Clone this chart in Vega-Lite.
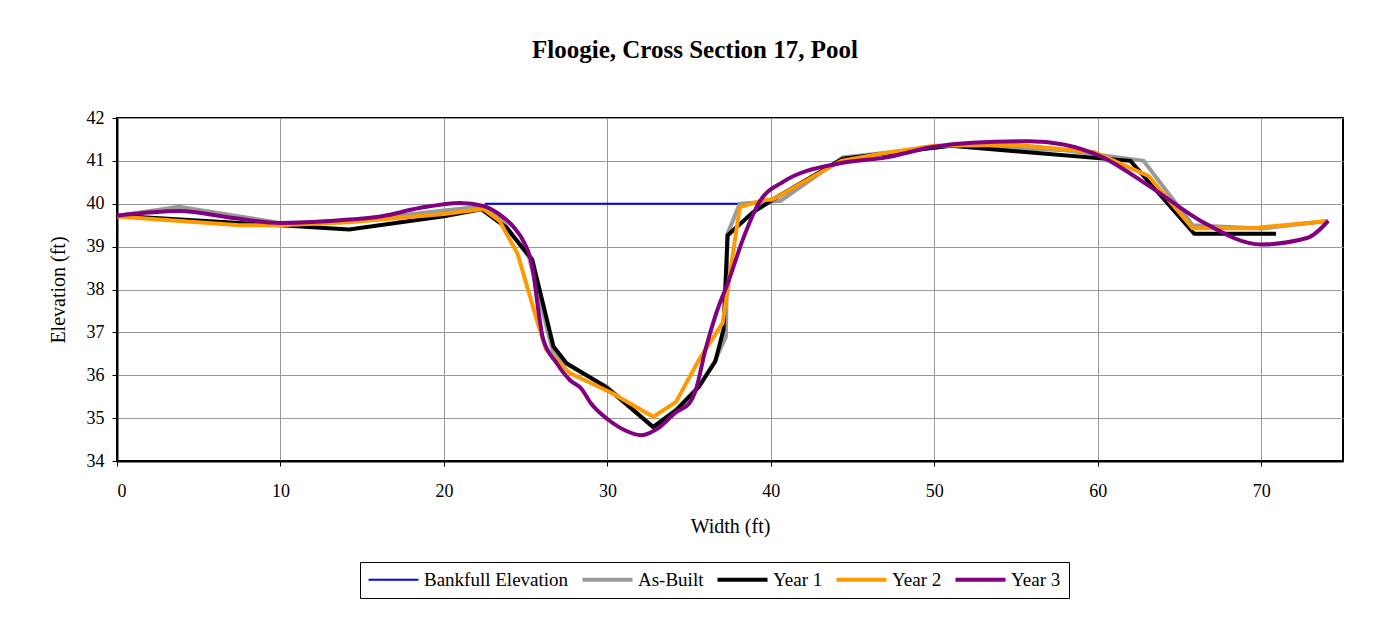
{
  "$schema": "https://vega.github.io/schema/vega-lite/v6.json",
  "width": 1226,
  "height": 343,
  "autosize": {"type": "none"},
  "padding": {"left": 117, "top": 118, "right": 31, "bottom": 156},
  "background": "white",
  "title": {"text": "Floogie, Cross Section 17, Pool", "font": "Liberation Serif", "fontSize": 25, "fontWeight": "bold", "color": "black", "anchor": "middle", "frame": "group", "dx": -35, "offset": 46},
  "config": {
    "view": {"stroke": "black", "strokeWidth": 2},
    "axis": {
      "labelFont": "Liberation Serif", "labelFontSize": 18, "labelColor": "black",
      "titleFont": "Liberation Serif", "titleFontSize": 20, "titleFontWeight": "normal", "titleColor": "black",
      "gridColor": "#999999", "gridWidth": 1, "domainColor": "black", "domainWidth": 2,
      "tickColor": "black", "tickSize": 5, "tickWidth": 1
    }
  },
  "data": {"values": [
    {"series": "Bankfull Elevation", "x": 22.5, "y": 40.0},
    {"series": "Bankfull Elevation", "x": 38.2, "y": 40.0},

    {"series": "As-Built", "x": 0, "y": 39.72},
    {"series": "As-Built", "x": 3.8, "y": 39.93},
    {"series": "As-Built", "x": 10, "y": 39.55},
    {"series": "As-Built", "x": 14.4, "y": 39.6},
    {"series": "As-Built", "x": 20, "y": 39.84},
    {"series": "As-Built", "x": 22.1, "y": 39.93},
    {"series": "As-Built", "x": 23.3, "y": 39.75},
    {"series": "As-Built", "x": 25.2, "y": 38.75},
    {"series": "As-Built", "x": 26.7, "y": 36.5},
    {"series": "As-Built", "x": 27.3, "y": 36.3},
    {"series": "As-Built", "x": 30, "y": 35.72},
    {"series": "As-Built", "x": 32.8, "y": 34.8},
    {"series": "As-Built", "x": 34.2, "y": 35.2},
    {"series": "As-Built", "x": 35.6, "y": 35.75},
    {"series": "As-Built", "x": 36.6, "y": 36.35},
    {"series": "As-Built", "x": 37.25, "y": 36.9},
    {"series": "As-Built", "x": 37.35, "y": 39.3},
    {"series": "As-Built", "x": 38.1, "y": 40.0},
    {"series": "As-Built", "x": 40.6, "y": 40.07},
    {"series": "As-Built", "x": 44.4, "y": 41.08},
    {"series": "As-Built", "x": 51, "y": 41.35},
    {"series": "As-Built", "x": 58, "y": 41.25},
    {"series": "As-Built", "x": 62.8, "y": 41.0},
    {"series": "As-Built", "x": 65.8, "y": 39.5},
    {"series": "As-Built", "x": 70, "y": 39.42},
    {"series": "As-Built", "x": 74.1, "y": 39.6},

    {"series": "Year 1", "x": 0, "y": 39.72},
    {"series": "Year 1", "x": 7.5, "y": 39.55},
    {"series": "Year 1", "x": 10, "y": 39.5},
    {"series": "Year 1", "x": 14.2, "y": 39.4},
    {"series": "Year 1", "x": 20, "y": 39.71},
    {"series": "Year 1", "x": 22.3, "y": 39.87},
    {"series": "Year 1", "x": 23.8, "y": 39.45},
    {"series": "Year 1", "x": 25.4, "y": 38.7},
    {"series": "Year 1", "x": 26.7, "y": 36.67},
    {"series": "Year 1", "x": 27.5, "y": 36.28},
    {"series": "Year 1", "x": 29.9, "y": 35.73},
    {"series": "Year 1", "x": 32.8, "y": 34.79},
    {"series": "Year 1", "x": 34.2, "y": 35.18},
    {"series": "Year 1", "x": 35.6, "y": 35.73},
    {"series": "Year 1", "x": 36.6, "y": 36.32},
    {"series": "Year 1", "x": 37.1, "y": 37.06},
    {"series": "Year 1", "x": 37.35, "y": 39.26},
    {"series": "Year 1", "x": 38.9, "y": 39.8},
    {"series": "Year 1", "x": 40.35, "y": 40.15},
    {"series": "Year 1", "x": 44.4, "y": 41.05},
    {"series": "Year 1", "x": 51, "y": 41.35},
    {"series": "Year 1", "x": 62, "y": 41.0},
    {"series": "Year 1", "x": 65.9, "y": 39.3},
    {"series": "Year 1", "x": 70.9, "y": 39.3},

    {"series": "Year 2", "x": 0, "y": 39.7},
    {"series": "Year 2", "x": 7.5, "y": 39.5},
    {"series": "Year 2", "x": 10, "y": 39.5},
    {"series": "Year 2", "x": 14.2, "y": 39.57},
    {"series": "Year 2", "x": 20, "y": 39.76},
    {"series": "Year 2", "x": 22.4, "y": 39.88},
    {"series": "Year 2", "x": 23.4, "y": 39.6},
    {"series": "Year 2", "x": 24.5, "y": 38.84},
    {"series": "Year 2", "x": 25.8, "y": 37.14},
    {"series": "Year 2", "x": 26.25, "y": 36.6},
    {"series": "Year 2", "x": 27.7, "y": 36.05},
    {"series": "Year 2", "x": 30.3, "y": 35.58},
    {"series": "Year 2", "x": 32.8, "y": 35.03},
    {"series": "Year 2", "x": 34.2, "y": 35.38},
    {"series": "Year 2", "x": 35.6, "y": 36.36},
    {"series": "Year 2", "x": 37.05, "y": 37.22},
    {"series": "Year 2", "x": 38.1, "y": 39.92},
    {"series": "Year 2", "x": 39.5, "y": 40.08},
    {"series": "Year 2", "x": 40.1, "y": 40.1},
    {"series": "Year 2", "x": 44.3, "y": 41.0},
    {"series": "Year 2", "x": 46.9, "y": 41.18},
    {"series": "Year 2", "x": 50, "y": 41.35},
    {"series": "Year 2", "x": 55.1, "y": 41.37},
    {"series": "Year 2", "x": 59.8, "y": 41.2},
    {"series": "Year 2", "x": 63.1, "y": 40.65},
    {"series": "Year 2", "x": 65.8, "y": 39.43},
    {"series": "Year 2", "x": 69.5, "y": 39.43},
    {"series": "Year 2", "x": 74.1, "y": 39.6},

    {"series": "Year 3", "x": 0, "y": 39.72},
    {"series": "Year 3", "x": 3.8, "y": 39.83},
    {"series": "Year 3", "x": 7.1, "y": 39.67},
    {"series": "Year 3", "x": 10, "y": 39.55},
    {"series": "Year 3", "x": 14.2, "y": 39.63},
    {"series": "Year 3", "x": 16.2, "y": 39.71},
    {"series": "Year 3", "x": 18.5, "y": 39.9},
    {"series": "Year 3", "x": 21.0, "y": 40.02},
    {"series": "Year 3", "x": 22.4, "y": 39.95},
    {"series": "Year 3", "x": 23.4, "y": 39.75},
    {"series": "Year 3", "x": 24.3, "y": 39.44},
    {"series": "Year 3", "x": 24.9, "y": 39.1},
    {"series": "Year 3", "x": 25.4, "y": 38.55},
    {"series": "Year 3", "x": 25.8, "y": 37.45},
    {"series": "Year 3", "x": 26.05, "y": 36.87},
    {"series": "Year 3", "x": 26.9, "y": 36.28},
    {"series": "Year 3", "x": 27.7, "y": 35.89},
    {"series": "Year 3", "x": 28.4, "y": 35.69},
    {"series": "Year 3", "x": 29.0, "y": 35.34},
    {"series": "Year 3", "x": 30.1, "y": 34.95},
    {"series": "Year 3", "x": 31.1, "y": 34.71},
    {"series": "Year 3", "x": 32.06, "y": 34.6},
    {"series": "Year 3", "x": 33.2, "y": 34.79},
    {"series": "Year 3", "x": 34.2, "y": 35.14},
    {"series": "Year 3", "x": 35.0, "y": 35.34},
    {"series": "Year 3", "x": 35.4, "y": 35.65},
    {"series": "Year 3", "x": 36.0, "y": 36.6},
    {"series": "Year 3", "x": 36.6, "y": 37.38},
    {"series": "Year 3", "x": 37.45, "y": 38.24},
    {"series": "Year 3", "x": 38.3, "y": 39.18},
    {"series": "Year 3", "x": 39.3, "y": 40.04},
    {"series": "Year 3", "x": 40.7, "y": 40.5},
    {"series": "Year 3", "x": 44.3, "y": 40.95},
    {"series": "Year 3", "x": 46.9, "y": 41.07},
    {"series": "Year 3", "x": 50, "y": 41.33},
    {"series": "Year 3", "x": 52.3, "y": 41.42},
    {"series": "Year 3", "x": 55.8, "y": 41.46},
    {"series": "Year 3", "x": 57.9, "y": 41.38},
    {"series": "Year 3", "x": 60.2, "y": 41.1},
    {"series": "Year 3", "x": 63.2, "y": 40.4},
    {"series": "Year 3", "x": 66.3, "y": 39.6},
    {"series": "Year 3", "x": 70, "y": 39.05},
    {"series": "Year 3", "x": 72.8, "y": 39.2},
    {"series": "Year 3", "x": 74.1, "y": 39.6}
  ]},
  "encoding": {
    "x": {"field": "x", "type": "quantitative", "scale": {"domain": [0, 75], "nice": false, "zero": false},
          "axis": {"values": [0, 10, 20, 30, 40, 50, 60, 70], "title": "Width (ft)", "labelPadding": 16, "titlePadding": 16, "grid": true}},
    "y": {"field": "y", "type": "quantitative", "scale": {"domain": [34, 42], "nice": false, "zero": false},
          "axis": {"values": [34, 35, 36, 37, 38, 39, 40, 41, 42], "title": "Elevation (ft)", "labelPadding": 8, "titlePadding": 18, "grid": true}},
    "color": {"field": "series", "type": "nominal",
      "scale": {"domain": ["Bankfull Elevation", "As-Built", "Year 1", "Year 2", "Year 3"], "range": ["#0000FF", "#999999", "#000000", "#FF9900", "#800080"]},
      "legend": {"title": null, "orient": "none", "legendX": 243, "legendY": 444, "direction": "horizontal",
        "symbolType": "stroke", "symbolSize": 2500, "symbolStrokeWidth": 4, "symbolOffset": 16,
        "labelFont": "Liberation Serif", "labelFontSize": 19, "labelColor": "black", "labelOffset": 21,
        "strokeColor": "black", "padding": 8, "columnPadding": 5,
        "encode": {"symbols": {"update": {"strokeWidth": {"signal": "datum.value === 'Bankfull Elevation' ? 2 : 4"}}}}}
    }
  },
  "layer": [
    {"transform": [{"filter": "datum.series === 'Bankfull Elevation'"}], "mark": {"type": "line", "strokeWidth": 2}},
    {"transform": [{"filter": "datum.series === 'As-Built'"}], "mark": {"type": "line", "strokeWidth": 4}},
    {"transform": [{"filter": "datum.series === 'Year 1'"}], "mark": {"type": "line", "strokeWidth": 4}},
    {"transform": [{"filter": "datum.series === 'Year 2'"}], "mark": {"type": "line", "strokeWidth": 4}},
    {"transform": [{"filter": "datum.series === 'Year 3'"}], "mark": {"type": "line", "strokeWidth": 4, "interpolate": "monotone"}}
  ]
}
